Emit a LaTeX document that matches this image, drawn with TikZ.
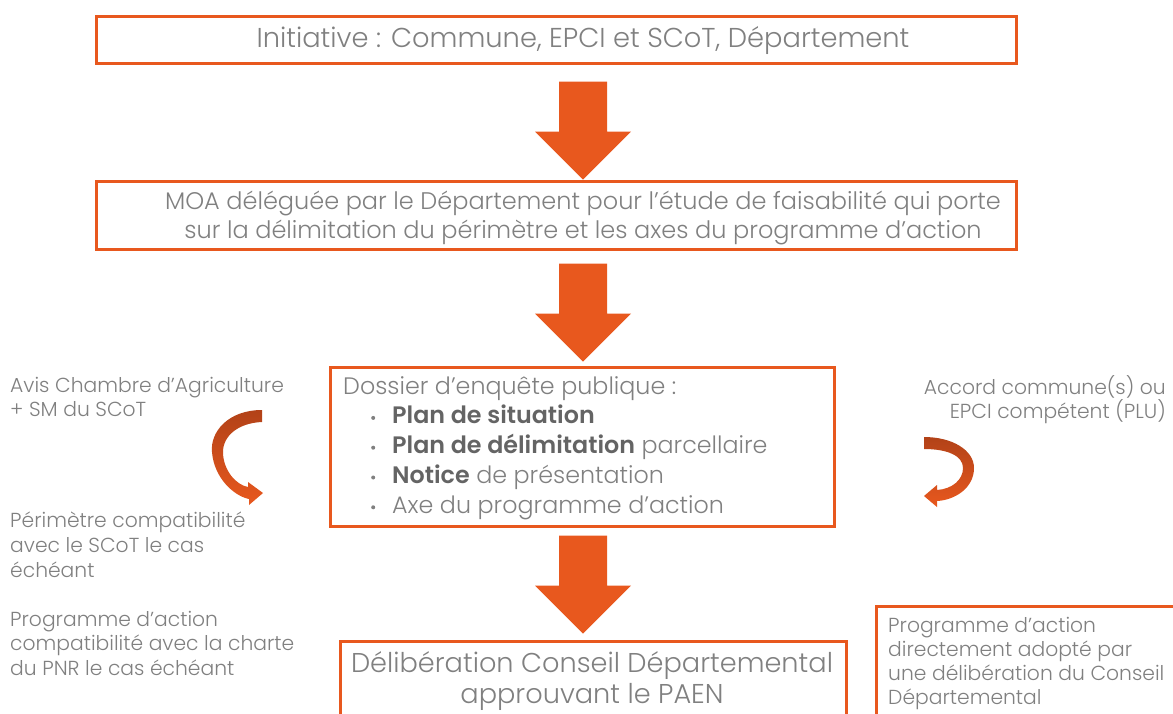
\documentclass[tikz,border=0pt]{standalone}
\usepackage{fontspec}
\setmainfont{Poppins}[UprightFont={* Light},BoldFont={* SemiBold}]
\definecolor{orangeM}{RGB}{232,88,30}
\definecolor{orangeD}{RGB}{178,66,24}
\definecolor{txtgray}{RGB}{128,128,128}
\definecolor{boldgray}{RGB}{100,100,100}
\newcommand{\dossbul}{\hspace*{28pt}\makebox[21pt][l]{\tikz[baseline=-6pt]\fill[txtgray] (0,0) circle (2pt);}}
\begin{document}
\begin{tikzpicture}[x=1pt,y=-1pt,
  frame/.style={draw=orangeM, line width=2.6pt, inner sep=0pt, anchor=north west},
  txt/.style={text=txtgray, inner sep=0pt},
  side/.style={txt, font=\fontsize{20.3}{24}\selectfont},
  blockdown/.pic={\fill[orangeM] (-24,0) -- (24,0) -- (24,50) -- (48,50) -- (0,98) -- (-48,50) -- (-24,50) -- cycle;}]
\useasboundingbox (0,0) rectangle (1173,713);
\clip (0,0) rectangle (1173,713);

% frames
\node[frame, minimum width=920pt, minimum height=47pt] (b1) at (95,15) {};
\node[frame, minimum width=920pt, minimum height=68pt] (b2) at (95,180) {};
\node[frame, minimum width=504pt, minimum height=159pt] (b3) at (329,366) {};
\node[frame, minimum width=506pt, minimum height=100pt] (b4) at (339,640) {};
\node[frame, minimum width=320pt, minimum height=130pt] (b5) at (875,605) {};

% texts of the frames
\node[txt, font=\fontsize{27.3}{30}\selectfont] (t1) at (583,41) {Initiative : Commune, EPCI et SCoT, Département};
\node[txt, font=\fontsize{24}{29}\selectfont, align=center] (t2) at (583,218)
  {MOA déléguée par le Département pour l’étude de faisabilité qui porte\\sur la délimitation du périmètre et les axes du programme d’action};
\node[txt, font=\fontsize{23.8}{29.8}\selectfont, align=left, anchor=north west] (t3) at (343,376)
  {Dossier d’enquête publique :\\
   \dossbul{\color{boldgray}\textbf{Plan de situation}}\\
   \dossbul{\color{boldgray}\textbf{Plan de délimitation}} parcellaire\\
   \dossbul{\color{boldgray}\textbf{Notice}} de présentation\\
   \dossbul Axe du programme d’action};
\node[txt, font=\fontsize{27.2}{31}\selectfont, align=center] (t4) at (592,681)
  {Délibération Conseil Départemental\\approuvant le PAEN};
\node[side, align=left, anchor=north west] (t5) at (888,617)
  {Programme d’action\\directement adopté par\\une délibération du Conseil\\Départemental};

% side notes
\node[side, align=left, anchor=north west] (n1) at (10,377)
  {Avis Chambre d’Agriculture\\+ SM du SCoT};
\node[side, font=\fontsize{20.3}{25}\selectfont, align=left, anchor=north west] (n2) at (10,512)
  {Périmètre compatibilité\\avec le SCoT le cas\\échéant};
\node[side, font=\fontsize{20.3}{24.5}\selectfont, align=left, anchor=north west] (n3) at (10,611)
  {Programme d’action\\compatibilité avec la charte\\du PNR le cas échéant};
\node[side, align=right, anchor=north east] (n4) at (1166,375)
  {Accord commune(s) ou\\EPCI compétent (PLU)};

% block arrows between frames
\pic at (b1.south -| 583,0) [yshift=-17pt] {blockdown};
\pic at (b2.south -| 583,0) [yshift=-13pt] {blockdown};
\pic at (b3.south -| 583,0) [yshift=-8pt] {blockdown};

% curved ribbon arrows
\shade[top color=orangeD, bottom color=orangeM]
  (262,410) .. controls (228,410) and (210,432) .. (212,452)
  .. controls (214,478) and (234,496) .. (249,499)
  -- (249,505) -- (263,493) -- (248,482) -- (248,487)
  .. controls (236,485) and (223,470) .. (223,452)
  .. controls (223,436) and (238,423) .. (262,422) -- cycle;
\shade[top color=orangeD, bottom color=orangeM]
  (924,437) .. controls (952,437) and (974,450) .. (974,468)
  .. controls (974,488) and (955,500) .. (937,501)
  -- (937,507) -- (924,496) -- (937,485) -- (937,490)
  .. controls (952,489) and (963,480) .. (963,468)
  .. controls (963,456) and (948,449) .. (924,449) -- cycle;
\end{tikzpicture}
\end{document}
